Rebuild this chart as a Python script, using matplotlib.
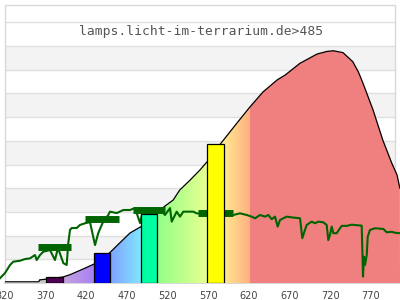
import numpy as np
import matplotlib
matplotlib.use("Agg")
import matplotlib.pyplot as plt
from matplotlib.patches import Polygon, Rectangle
from matplotlib.colors import to_rgb

# relative spectrum of the lamp (outline of the filled area)
spec_nm = [320, 361.5, 362.5, 370, 391, 400, 410, 420, 429.5, 449, 460, 473.8,
           487.4, 500, 510, 517, 527, 535, 548, 560, 568.6, 578, 587, 605.5,
           621.5, 637.5, 655, 665, 683, 704, 716, 724, 736, 748, 755, 760.6,
           773, 785, 796, 802.5, 806]
spec_val = [0.005, 0.005, 0.013, 0.016, 0.025, 0.035, 0.05, 0.065, 0.080, 0.128,
            0.165, 0.211, 0.238, 0.275, 0.305, 0.325, 0.350, 0.392, 0.435, 0.477,
            0.511, 0.553, 0.595, 0.675, 0.743, 0.806, 0.857, 0.878, 0.927, 0.966,
            0.977, 0.980, 0.972, 0.934, 0.89, 0.843, 0.730, 0.603, 0.506, 0.456,
            0.40]

# reference curve (green)
ref_nm = [313.8, 320, 326.2, 330.2, 338.5, 344.6, 350.8, 356.9, 359, 363.1, 367.1,
          375.4, 381.5, 385.2, 391.8, 395.9, 397.9, 400, 402.1, 408.2, 412.3, 418.5,
          424.6, 430.8, 434.8, 440.6, 447.1, 449.2, 457.5, 465.6, 473.8, 480, 486.2,
          489.8, 498.5, 510.8, 516.9, 523.1, 525.2, 531.3, 535.4, 539.4, 545.6,
          551.8, 555.9, 601, 609.2, 617.5, 623.6, 627.7, 633.8, 640, 644.1, 648.2,
          652.3, 655.6, 658.5, 662.5, 666.7, 672.9, 683.1, 685.9, 688.4, 691.3,
          697.5, 701.5, 705.6, 711.8, 715.9, 717.9, 720, 722.1, 724.1, 728.2, 732.3,
          734.4, 740.6, 746.7, 759, 759.8, 760.6, 761.8, 763.1, 765.2, 766.4, 769.2,
          775.4, 785.6, 789.8, 795.9, 800, 806.2]
ref_val = [0.020, 0.042, 0.076, 0.090, 0.094, 0.101, 0.104, 0.118, 0.097, 0.118, 0.132,
           0.139, 0.097, 0.148, 0.084, 0.076, 0.169, 0.224, 0.232, 0.232, 0.245, 0.252,
           0.257, 0.160, 0.211, 0.257, 0.287, 0.301, 0.295, 0.308, 0.308, 0.316, 0.253,
           0.308, 0.312, 0.312, 0.287, 0.316, 0.259, 0.301, 0.280, 0.301, 0.301,
           0.301, 0.294, 0.287, 0.294, 0.287, 0.280, 0.273, 0.287, 0.280, 0.287, 0.269,
           0.280, 0.238, 0.266, 0.273, 0.280, 0.277, 0.273, 0.189, 0.216, 0.245,
           0.259, 0.252, 0.259, 0.256, 0.245, 0.181, 0.203, 0.238, 0.210, 0.210, 0.231,
           0.241, 0.241, 0.246, 0.242, 0.139, 0.027, 0.111, 0.076, 0.118, 0.195, 0.224,
           0.231, 0.228, 0.214, 0.216, 0.212, 0.210]

# reference band averages (thick green segments)
avg_from = [360.2, 418.5, 477.2, 557.9]
avg_to = [400.9, 460.3, 516.9, 600.6]
avg_val = [0.154, 0.268, 0.308, 0.294]

# lamp band values (bars)
bar_left = [370.5, 429.5, 487.4, 568.6]
bar_width = [20.9, 19.7, 19.7, 20.9]
bar_val = [0.025, 0.127, 0.291, 0.586]
bar_colors = ['#4d0050', '#0000ff', '#00ffa0', '#ffff00']

title = 'lamps.licht-im-terrarium.de>485'
xticks = [320, 370, 420, 470, 520, 570, 620, 670, 720, 770]

XMIN, XMAX, XEND, YTOP = 320, 800, 806.15, 1.173

fig = plt.figure(figsize=(4, 3), dpi=100)
ax = fig.add_axes([5/400, 17/300, 395/400, 278/300])
ax.set_xlim(XMIN, XEND)
ax.set_ylim(0, YTOP)
for s in ax.spines.values():
    s.set_visible(False)
ax.set_yticks([])

# background bands + grid
for lo in [0.1, 0.3, 0.5, 0.7, 0.9]:
    ax.fill_between([XMIN, XMAX], lo, lo + 0.1, color='#f3f3f3', lw=0, zorder=0)
for g in np.arange(0.1, 1.15, 0.1):
    ax.plot([XMIN, XMAX], [g, g], color='#e0e0e0', lw=1.0, zorder=1)
ax.plot([XMIN, XMIN, XMAX, XMAX], [0, YTOP, YTOP, 0], color='#d9d9d9', lw=1.0,
        zorder=1, clip_on=False)
ax.plot([XMIN, XEND], [0, 0], color='#d9d9d9', lw=1.5, zorder=1, clip_on=False)

# gradient fill under spectrum
stops = [(320, '#ffffff'), (361.9, '#ffffff'), (362, '#c8c8c8'), (370, '#c8c8c8'),
         (370.1, '#c4a4d8'), (392, '#c4a4dc'), (430, '#a77ff8'), (430.1, '#80a0ff'),
         (449, '#80a0ff'), (487, '#80e6ff'), (487.1, '#88ffb0'), (507, '#90ff88'),
         (568, '#e8ff90'), (568.1, '#ffff88'), (590, '#ffe890'), (621, '#ffb080'),
         (621.1, '#f08080'), (810, '#f08080')]
sx = np.array([s[0] for s in stops])
sc = np.array([to_rgb(s[1]) for s in stops])
grid = np.arange(XMIN, XEND, 0.25)
img = np.stack([np.interp(grid, sx, sc[:, k]) for k in range(3)], axis=-1)[None, :, :]
im = ax.imshow(img, extent=[XMIN, XEND, 0, YTOP], aspect='auto',
               interpolation='nearest', origin='lower', zorder=2)
verts = [(XMIN, 0)] + list(zip(spec_nm, spec_val)) + [(XEND, 0)]
poly = Polygon(verts, closed=True, facecolor='none', edgecolor='none')
ax.add_patch(poly)
im.set_clip_path(poly)
ax.plot(spec_nm, spec_val, color='black', lw=0.9, zorder=3)

# reference line and band averages
ax.plot(ref_nm, ref_val, color='#006400', lw=1.5, zorder=4, clip_on=False)
ax.hlines(avg_val, avg_from, avg_to, color='#006400', lw=5, zorder=4)

# bars
for l, w, v, c in zip(bar_left, bar_width, bar_val, bar_colors):
    ax.add_patch(Rectangle((l, 0), w, v, facecolor=c, edgecolor='black', lw=0.9, zorder=5))

ax.set_xticks(xticks)
ax.tick_params(axis='x', length=0, pad=5.5, labelsize=7, labelcolor='#444444')

fig.text(201/400, 1 - 32/300, title, ha='center', va='center',
         family='DejaVu Sans Mono', fontsize=9.4, color='#555555')

fig.savefig('out.png', dpi=100)
